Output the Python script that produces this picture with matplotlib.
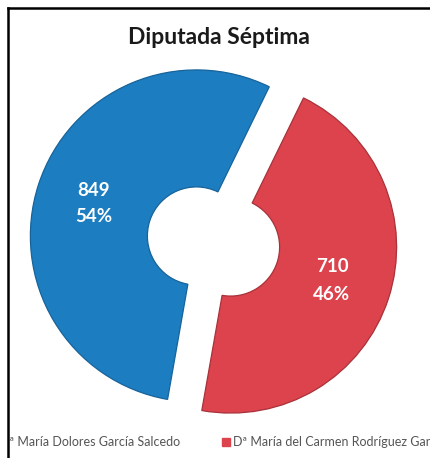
import matplotlib
matplotlib.use("Agg")
import matplotlib.pyplot as plt
from matplotlib.lines import Line2D
from matplotlib.patches import Rectangle

# ---- data ----
title = "Diputada Séptima"
candidates = ["Dª María Dolores García Salcedo", "Dª María del Carmen Rodríguez García"]
votes = [849, 710]
percents = ["54%", "46%"]
colors = ["#1C7DC1", "#DC434D"]
edge_colors = ["#17639A", "#A8323A"]

W, H = 430, 458
fig = plt.figure(figsize=(W / 100, H / 100), dpi=100)
fig.patch.set_facecolor("white")

ax = fig.add_axes([0, 0, 1, 1])

R = 166
hole = 49
cx, cy = 213.5, H - 241.5
off = 18

wedges, _ = ax.pie(
    votes,
    radius=R,
    center=(cx, cy),
    startangle=-100,
    counterclock=False,
    explode=[off, off],
    colors=colors,
    wedgeprops=dict(width=R - hole, linewidth=0.9),
    frame=True,
)
for w, ec in zip(wedges, edge_colors):
    w.set_edgecolor(ec)
ax.set_xlim(0, W)
ax.set_ylim(0, H)
ax.set_aspect("equal")
ax.axis("off")

# data labels
label_pos = [(94, 191, 216), (332, 267, 294)]
for (x, y1, y2), v, p in zip(label_pos, votes, percents):
    ax.text(x, H - y1, f"{v}", ha="center", va="center", color="white",
            fontsize=13.5, fontweight="bold", family="Lato")
    ax.text(x, H - y2, p, ha="center", va="center", color="white",
            fontsize=13.5, fontweight="bold", family="Lato")

# title
fig.text(219 / W, 1 - 38 / H, title, ha="center", va="center",
         fontsize=16.5, fontweight="bold", family="Lato", color="#1a1a1a")

# legend (clipped at left border)
lax = fig.add_axes([9 / W, 0, 1 - 9 / W, 1])
lax.set_xlim(9, W)
lax.set_ylim(0, H)
lax.axis("off")
ly = H - 442
lax.add_patch(Rectangle((-10, ly - 4), 8, 8, color=colors[0], clip_on=True))
lax.text(0, ly, candidates[0], ha="left", va="center", fontsize=9,
         family="Lato", color="#555555", clip_on=True)
lax.add_patch(Rectangle((222, ly - 4), 8, 8, color=colors[1], clip_on=True))
lax.text(233, ly, candidates[1], ha="left", va="center", fontsize=9,
         family="Lato", color="#555555", clip_on=True)

# frame border (top and left)
fig.add_artist(Line2D([8 / W, 1], [1 - 8 / H, 1 - 8 / H], color="black", lw=1.8,
                      transform=fig.transFigure))
fig.add_artist(Line2D([8 / W, 8 / W], [0, 1 - 8 / H], color="black", lw=1.8,
                      transform=fig.transFigure))

fig.savefig("out.png", dpi=100, facecolor="white")
